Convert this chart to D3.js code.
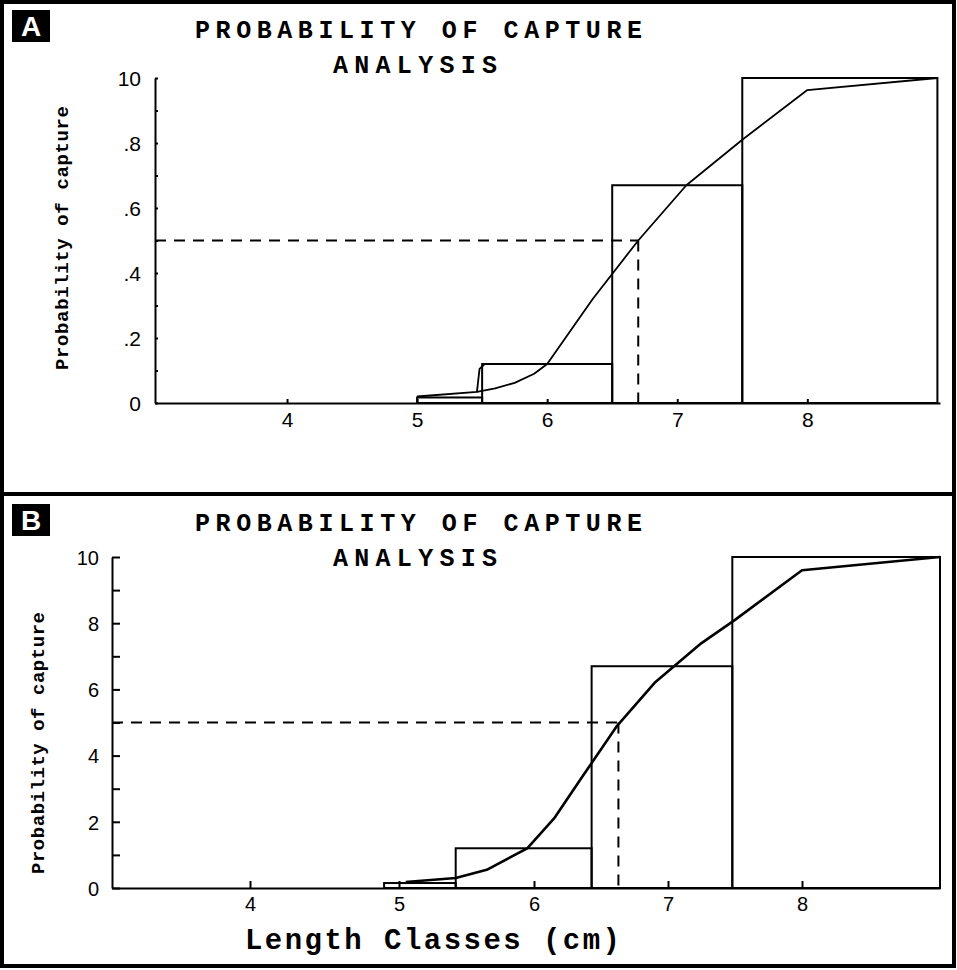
<!DOCTYPE html>
<html>
<head>
<meta charset="utf-8">
<script src="https://cdn.jsdelivr.net/npm/d3@7"></script>
<style>
  body { margin: 0; background: #fff; }
  svg { display: block; }
  .domain { stroke: #000; stroke-width: 2px; }
  .tick line { stroke: #000; stroke-width: 2px; }
</style>
</head>
<body>
<svg id="svgMain" width="957" height="970"></svg>
<script>
// ---- data ----
const xTickValues = [4, 5, 6, 7, 8];

// panel A (proportion, top label printed as "10")
const yTicksA = [0, 0.2, 0.4, 0.6, 0.8, 1.0];
const yTickLabelsA = ["0", ".2", ".4", ".6", ".8", "10"];
const yMinorA = [0.1, 0.3, 0.5, 0.7, 0.9];
const barStartA = [5.0, 5.5, 6.5, 7.5];
const barEndA = [5.5, 6.5, 7.5, 9.0];
const barValueA = [0.017, 0.12, 0.67, 1.0];
const curveTailA = [[5.0, 0.02], [5.46, 0.034], [5.48, 0.105], [5.52, 0.12]];
const curveA = [[5.46, 0.034], [5.6, 0.045], [5.75, 0.062], [5.9, 0.09], [6.0, 0.12],
  [6.35, 0.32], [6.7, 0.5], [7.07, 0.67], [7.5, 0.81], [8.0, 0.963], [9.0, 1.0]];
const dashA = [6.7, 0.5];

// panel B (scale 0-10)
const yTicksB = [0, 2, 4, 6, 8, 10];
const yTickLabelsB = ["0", "2", "4", "6", "8", "10"];
const yMinorB = [1, 3, 5, 7, 9];
const barStartB = [4.9, 5.42, 6.43, 7.48];
const barEndB = [5.42, 6.43, 7.48, 9.0];
const barValueB = [0.15, 1.2, 6.7, 10];
const curveB = [[5.05, 0.18], [5.42, 0.3], [5.65, 0.55], [5.95, 1.2], [6.15, 2.1],
  [6.35, 3.3], [6.62, 4.9], [6.9, 6.2], [7.25, 7.4], [7.5, 8.1], [8.0, 9.6], [9.0, 10.0]];
const dashB = [6.63, 5];

const titleLines = ["PROBABILITY OF CAPTURE", "ANALYSIS"];
const yLabel = "Probability of capture";
const xLabel = "Length Classes (cm)";

let svgMain = d3.select("#svgMain");
const monoFont = "'Courier New', 'Liberation Mono', monospace";
const sansFont = "Arial, 'Liberation Sans', sans-serif";

// frames
svgMain.append("rect").attr("x", 2).attr("y", 2).attr("width", 952).attr("height", 492)
  .attr("fill", "none").attr("stroke", "#000").attr("stroke-width", 4);
svgMain.append("rect").attr("x", 2).attr("y", 494).attr("width", 952).attr("height", 472)
  .attr("fill", "none").attr("stroke", "#000").attr("stroke-width", 4);

function panelLetter(letter, y) {
  svgMain.append("rect").attr("x", 12).attr("y", y).attr("width", 38).attr("height", 32).attr("fill", "#000");
  svgMain.append("text")
    .attr("x", 31).attr("y", y + 26)
    .attr("text-anchor", "middle")
    .attr("font-family", sansFont).attr("font-weight", "bold").attr("font-size", "28px")
    .attr("fill", "#fff")
    .text(letter);
}

function titles(y1, y2) {
  svgMain.append("text")
    .attr("x", 195).attr("y", y1)
    .attr("textLength", 447).attr("lengthAdjust", "spacing")
    .attr("font-family", monoFont).attr("font-weight", "bold").attr("font-size", "25px")
    .text(titleLines[0]);
  svgMain.append("text")
    .attr("x", 333).attr("y", y2)
    .attr("textLength", 164).attr("lengthAdjust", "spacing")
    .attr("font-family", monoFont).attr("font-weight", "bold").attr("font-size", "25px")
    .text(titleLines[1]);
}

function yTitle(cx, cy, len) {
  svgMain.append("text")
    .attr("transform", "translate(" + cx + "," + cy + ") rotate(-90)")
    .attr("x", -len / 2).attr("y", 0)
    .attr("textLength", len).attr("lengthAdjust", "spacing")
    .attr("font-family", monoFont).attr("font-weight", "bold").attr("font-size", "19px")
    .text(yLabel);
}

function drawPanel(opt) {
  const g = svgMain.append("g");
  const x = opt.x, y = opt.y;

  // bars
  g.selectAll("rect.bar")
    .data(opt.barValue)
    .enter().append("rect").attr("class", "bar")
    .attr("x", (d, i) => x(opt.barStart[i]))
    .attr("y", d => y(d))
    .attr("width", (d, i) => x(opt.barEnd[i]) - x(opt.barStart[i]))
    .attr("height", d => y(0) - y(d))
    .attr("fill", "none").attr("stroke", "#000").attr("stroke-width", 2);

  // dashed reference lines
  const dash = opt.dash;
  g.append("line")
    .attr("x1", x.range()[0]).attr("x2", x(dash[0]))
    .attr("y1", y(dash[1])).attr("y2", y(dash[1]))
    .attr("stroke", "#000").attr("stroke-width", 2).attr("stroke-dasharray", "11,8");
  g.append("line")
    .attr("x1", x(dash[0])).attr("x2", x(dash[0]))
    .attr("y1", y(dash[1])).attr("y2", y(0))
    .attr("stroke", "#000").attr("stroke-width", 2).attr("stroke-dasharray", "11,8");

  // curve(s)
  const line = d3.line().x(d => x(d[0])).y(d => y(d[1]));
  opt.curves.forEach(c => {
    g.append("path").attr("d", line(c))
      .attr("fill", "none").attr("stroke", "#000")
      .attr("stroke-width", opt.curveWidth).attr("stroke-linejoin", "round");
  });

  // minor y ticks
  g.append("g")
    .attr("transform", "translate(" + x.range()[0] + ",0)")
    .call(d3.axisLeft(y).tickValues(opt.yMinor).tickSize(-opt.yTick).tickFormat("").tickSizeOuter(0))
    .call(a => a.select(".domain").remove());

  // y axis
  g.append("g")
    .attr("transform", "translate(" + x.range()[0] + ",0)")
    .call(d3.axisLeft(y).tickValues(opt.yTicks).tickSize(-opt.yTick).tickPadding(opt.yPad)
      .tickSizeOuter(0).tickFormat((d, i) => opt.yLabels[i]))
    .attr("font-family", sansFont).attr("font-size", opt.yFont)
    .call(a => a.selectAll("text").attr("fill", "#000").attr("dy", "0.36em"));

  // x axis
  g.append("g")
    .attr("transform", "translate(0," + y(0) + ")")
    .call(d3.axisBottom(x).tickValues(xTickValues).tickSize(-opt.xTick).tickPadding(9)
      .tickSizeOuter(0).tickFormat(d3.format("d")))
    .attr("font-family", sansFont).attr("font-size", opt.xFont)
    .call(a => a.selectAll("text").attr("fill", "#000"));
}

// ---- panel A ----
panelLetter("A", 10);
titles(38, 73);
yTitle(68, 238, 264);
drawPanel({
  x: d3.scaleLinear().domain([2.985, 9.02]).range([155, 940]),
  y: d3.scaleLinear().domain([0, 1]).range([403, 78]),
  barStart: barStartA, barEnd: barEndA, barValue: barValueA,
  curves: [curveTailA, curveA], curveWidth: 1.8,
  dash: dashA,
  yTicks: yTicksA, yLabels: yTickLabelsA, yMinor: yMinorA,
  yTick: 3, yPad: 14, yFont: "21px", xTick: 4, xFont: "21px"
});

// ---- panel B ----
panelLetter("B", 504);
titles(531, 566);
yTitle(44, 743, 262);
drawPanel({
  x: d3.scaleLinear().domain([3, 4, 5, 6, 7, 8, 9]).range([112, 250, 399, 534, 668, 802, 940]),
  y: d3.scaleLinear().domain([0, 10]).range([888, 557]),
  barStart: barStartB, barEnd: barEndB, barValue: barValueB,
  curves: [curveB], curveWidth: 2.6,
  dash: dashB,
  yTicks: yTicksB, yLabels: yTickLabelsB, yMinor: yMinorB,
  yTick: 8, yPad: 13, yFont: "20px", xTick: 7, xFont: "20px"
});

// x axis title (panel B)
svgMain.append("text")
  .attr("x", 245).attr("y", 949)
  .attr("textLength", 375).attr("lengthAdjust", "spacing")
  .attr("font-family", monoFont).attr("font-weight", "bold").attr("font-size", "29px")
  .text(xLabel);
</script>
</body>
</html>
